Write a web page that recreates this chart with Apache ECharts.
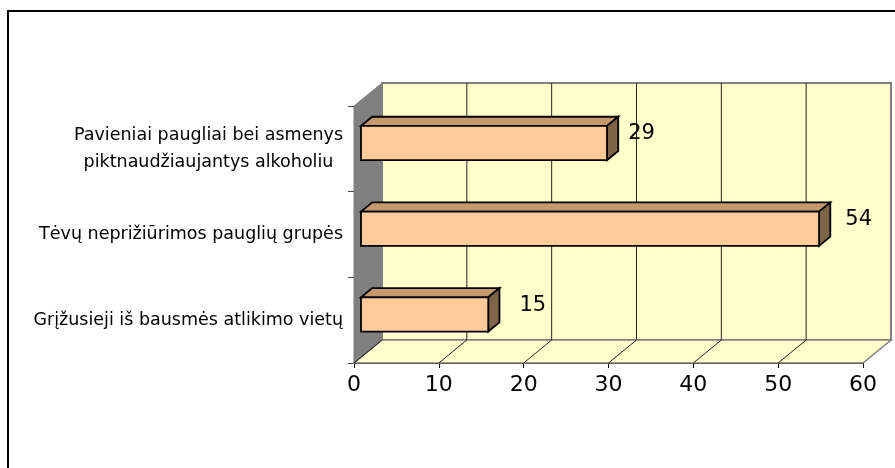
<!DOCTYPE html>
<html>
<head>
<meta charset="utf-8">
<script src="https://cdn.jsdelivr.net/npm/echarts@6/dist/echarts.min.js"></script>
<style>
  html, body { margin: 0; padding: 0; background: #fff; }
  #chart { width: 895px; height: 468px; }
</style>
</head>
<body>
<div id="chart"></div>
<script>
// Categories listed bottom-to-top, as the category axis stacks them
const categories = [
  'Grįžusieji iš bausmės atlikimo vietų',
  'Tėvų neprižiūrimos pauglių grupės',
  'Pavieniai paugliai bei asmenys\npiktnaudžiaujantys alkoholiu'
];
const values = [15, 54, 29];
const valueTicks = [0, 10, 20, 30, 40, 50, 60];

// Layout / style settings
const FONT = 'DejaVu Sans';
const DEPTH = [28, -23];            // offset of the back wall from the front plane
const BAR_FRONT = 0.25;             // bar front face, as a fraction of the box depth
const BAR_BACK = 0.65;              // bar back face
const LABEL_GAP = [20, 15, 10];     // space between a bar's end and its value label

const chart = echarts.init(document.getElementById('chart'), null, { renderer: 'canvas' });

// Walls and floor of the 3-D box
function renderFrame(params) {
  const cs = params.coordSys;
  const [dx, dy] = DEPTH;
  const L = cs.x, R = cs.x + cs.width, T = cs.y, B = cs.y + cs.height;
  return {
    type: 'group',
    children: [
      { type: 'rect', shape: { x: L + dx, y: T + dy, width: cs.width, height: cs.height },
        style: { fill: '#FFFFCC', stroke: '#808080', lineWidth: 2 } },
      { type: 'polygon', shape: { points: [[L, B], [R, B], [R + dx, B + dy], [L + dx, B + dy]] },
        style: { fill: '#FFFFCC', stroke: '#808080', lineWidth: 1.5 } },
      { type: 'polygon', shape: { points: [[L, T], [L + dx, T + dy], [L + dx, B + dy], [L, B]] },
        style: { fill: '#808080', stroke: '#808080', lineWidth: 1 } }
    ]
  };
}

// Gridlines on the back wall plus the diagonal floor lines at each tick
function renderGrid(params, api) {
  const cs = params.coordSys;
  const [dx, dy] = DEPTH;
  const v = api.value(0);
  const x = api.coord([v, 0])[0];
  const T = cs.y, B = cs.y + cs.height;
  const children = [];
  const last = v === valueTicks[valueTicks.length - 1];
  if (v !== valueTicks[0] && !last) {
    children.push({ type: 'line', shape: { x1: x + dx, y1: T + dy, x2: x + dx, y2: B + dy },
      style: { stroke: '#222', lineWidth: 1 } });
  }
  if (!last) {
    children.push({ type: 'line', shape: { x1: x, y1: B, x2: x + dx, y2: B + dy },
      style: { stroke: '#222', lineWidth: 1 } });
  }
  return { type: 'group', children };
}

// A bar drawn as a box: front face, top face, end face and its value label
function renderBar(params, api) {
  const v = api.value(0);
  const idx = api.value(1);
  const start = api.coord([0, idx]);
  const end = api.coord([v, idx]);
  const h = api.size([0, 1])[1] * 0.4;
  const [dx, dy] = DEPTH;
  const fx = dx * BAR_FRONT, fy = dy * BAR_FRONT;
  const bx = dx * BAR_BACK, by = dy * BAR_BACK;
  const ox = bx - fx, oy = by - fy;
  const x0 = start[0] + fx, x1 = end[0] + fx;
  const yT = start[1] + fy - h / 2, yB = yT + h;
  const edge = { stroke: '#000', lineWidth: 1.8, lineJoin: 'miter' };
  return {
    type: 'group',
    children: [
      { type: 'polygon', shape: { points: [[x0, yT], [x1, yT], [x1 + ox, yT + oy], [x0 + ox, yT + oy]] },
        style: Object.assign({ fill: '#C49A6C' }, edge) },
      { type: 'polygon', shape: { points: [[x1, yT], [x1 + ox, yT + oy], [x1 + ox, yB + oy], [x1, yB]] },
        style: Object.assign({ fill: '#806448' }, edge) },
      { type: 'rect', shape: { x: x0, y: yT, width: x1 - x0, height: h },
        style: Object.assign({ fill: '#FFCC99' }, edge) },
      { type: 'text', x: end[0] + bx + LABEL_GAP[params.dataIndex], y: start[1] + by,
        style: { text: String(v), fill: '#000', fontSize: 21, fontFamily: FONT,
                 align: 'left', verticalAlign: 'middle' } }
    ]
  };
}

const option = {
  animation: false,
  backgroundColor: '#fff',
  graphic: [
    { type: 'rect', shape: { x: 8, y: 11, width: 900, height: 480 },
      style: { fill: 'none', stroke: '#000', lineWidth: 2 }, z: 100 }
  ],
  grid: { left: 354, top: 106, width: 509, height: 257, containLabel: false, outerBoundsMode: 'none' },
  xAxis: {
    type: 'value', min: 0, max: 60, interval: 10,
    axisLine: { show: true, lineStyle: { color: '#000', width: 1 } },
    axisTick: { show: true, length: 5, lineStyle: { color: '#000' } },
    axisLabel: { fontSize: 22, fontFamily: FONT, color: '#000', margin: 11 },
    splitLine: { show: false }
  },
  yAxis: {
    type: 'category', data: categories,
    axisLine: { show: true, lineStyle: { color: '#404040', width: 1 } },
    axisTick: { show: true, length: 6, lineStyle: { color: '#404040' } },
    axisLabel: {
      interval: 0, margin: 11, fontSize: 17.5, fontFamily: FONT, color: '#000', lineHeight: 27,
      formatter: function (v) {
        const lines = v.split('\n');
        if (lines.length === 1) return v;
        return lines.map(function (l) { return '{c|' + l + '}'; }).join('\n');
      },
      rich: { c: { align: 'center', fontSize: 17.5, fontFamily: FONT, color: '#000', lineHeight: 27 } }
    },
    splitLine: { show: false }
  },
  series: [
    { type: 'custom', renderItem: renderFrame, data: [[0, 0]], silent: true, z: 1,
      encode: { x: 0, y: 1 } },
    { type: 'custom', renderItem: renderGrid, data: valueTicks.map(function (t) { return [t, 0]; }),
      silent: true, z: 2, encode: { x: 0, y: 1 } },
    { type: 'custom', renderItem: renderBar, data: values.map(function (v, i) { return [v, i]; }),
      z: 3, encode: { x: 0, y: 1 } }
  ]
};

chart.setOption(option);
</script>
</body>
</html>
